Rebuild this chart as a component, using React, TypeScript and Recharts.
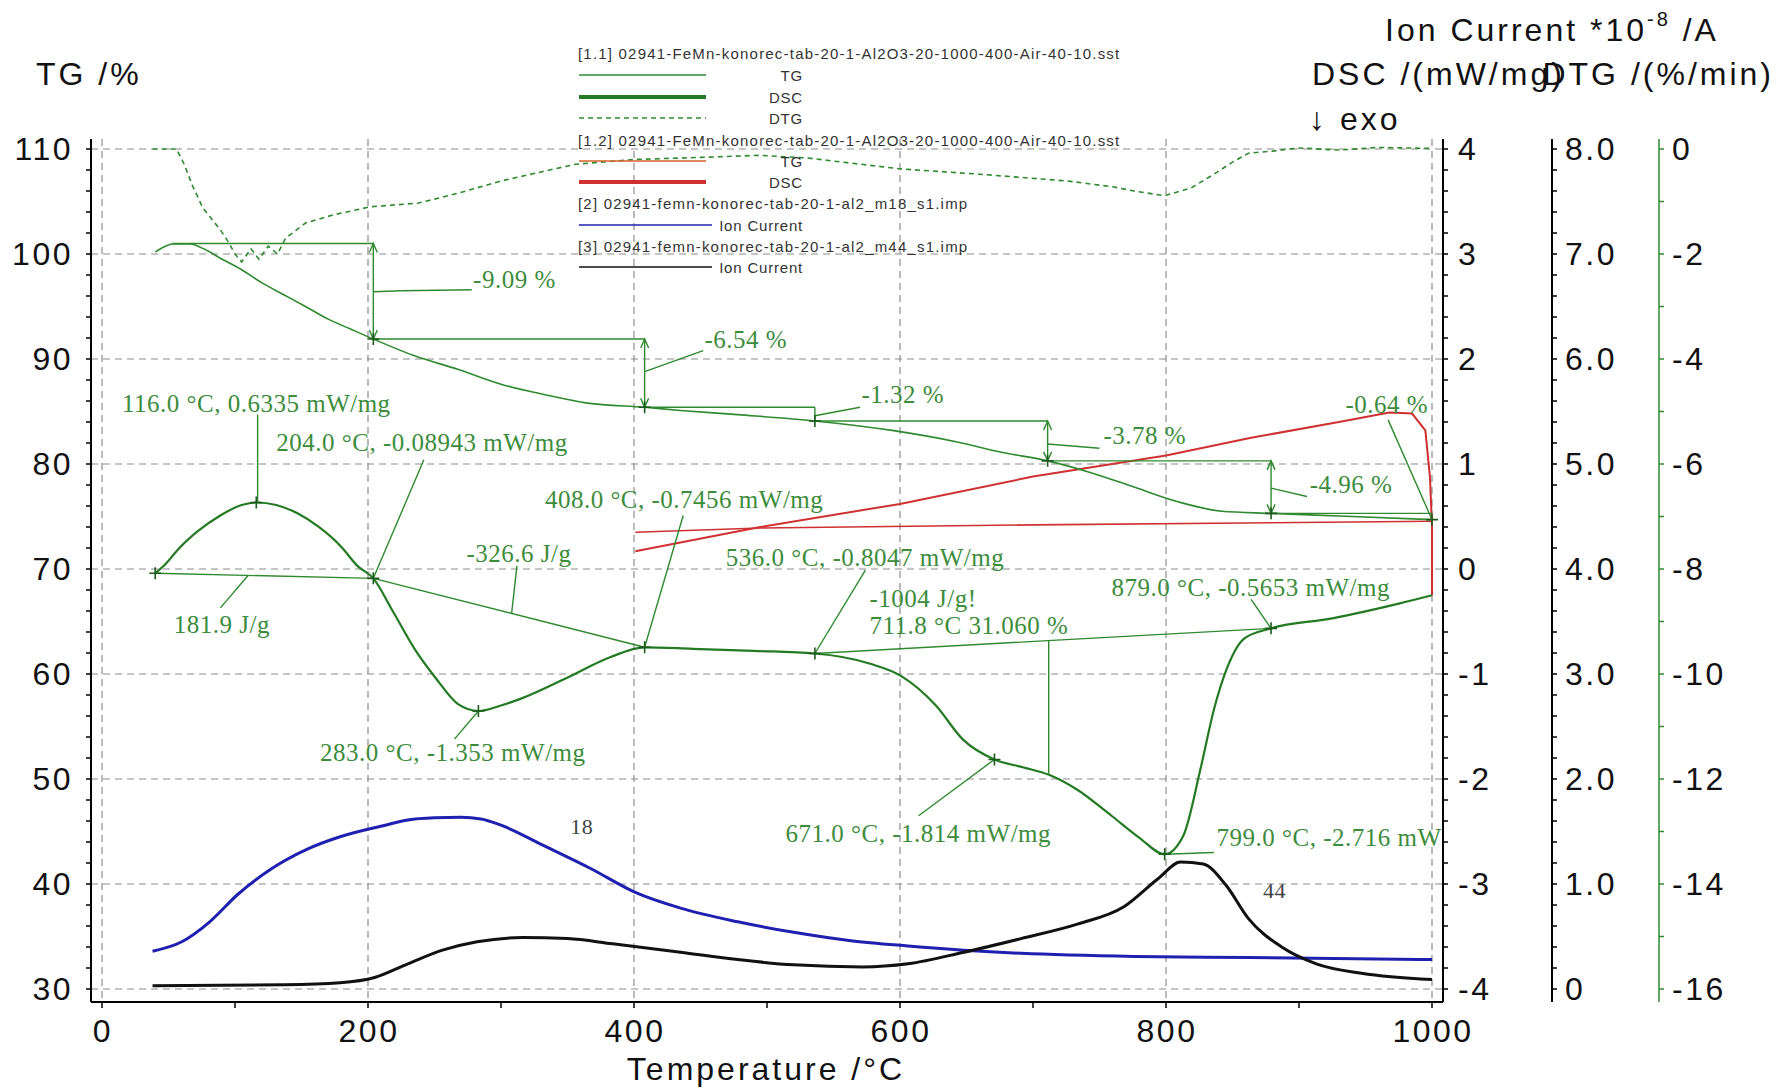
import React from 'react';
import { ComposedChart, Line, XAxis, YAxis, CartesianGrid, ReferenceLine, ReferenceDot } from 'recharts';

// ---------- series data: [temperature °C, value] ----------
const TG_11: [number, number][] = [
  [40, 100.2], [47, 100.7], [53, 100.95], [66, 100.95], [78, 100.4], [89, 99.6], [105, 98.5], [121, 97.2],
  [137, 96.1], [153, 95.0], [170, 93.8], [186, 92.9], [204, 91.9], [235, 90.3], [268, 89.0], [300, 87.6],
  [333, 86.6], [365, 85.8], [408, 85.4], [435, 85.1], [478, 84.7], [536, 84.1], [594, 83.2], [643, 82.1],
  [677, 81.1], [711, 80.3], [743, 79.2], [776, 77.8], [809, 76.4], [842, 75.5], [879, 75.3], [940, 75.0], [1000, 74.7],
];
const DSC_11: [number, number][] = [
  [40, -0.04], [48, 0.05], [56, 0.17], [72, 0.36], [89, 0.51], [105, 0.61], [116, 0.6335], [131, 0.61],
  [147, 0.53], [163, 0.40], [180, 0.21], [192, 0.03], [204, -0.089], [219, -0.41], [235, -0.76], [251, -1.04],
  [268, -1.29], [283, -1.353], [300, -1.30], [316, -1.23], [349, -1.04], [382, -0.84], [408, -0.7456], [444, -0.76],
  [490, -0.78], [536, -0.8047], [577, -0.90], [601, -1.02], [627, -1.30], [647, -1.62], [671, -1.814], [693, -1.89],
  [712, -1.96], [733, -2.10], [759, -2.35], [780, -2.56], [799, -2.716], [813, -2.54], [826, -1.90], [836, -1.34],
  [846, -0.94], [859, -0.66], [879, -0.5653], [925, -0.47], [975, -0.33], [1000, -0.25],
];
const DTG_11: [number, number][] = [
  [38, 0], [56, 0], [62, -0.3], [68, -0.7], [76, -1.13], [89, -1.54], [95, -1.77], [100, -2.0], [105, -2.15],
  [112, -1.9], [118, -2.1], [125, -1.85], [132, -2.0], [138, -1.7], [153, -1.41], [173, -1.26], [202, -1.1],
  [238, -1.03], [268, -0.84], [300, -0.61], [333, -0.42], [356, -0.29], [400, -0.2], [450, -0.16], [495, -0.12],
  [530, -0.17], [560, -0.26], [601, -0.38], [660, -0.48], [726, -0.61], [760, -0.72], [776, -0.8], [799, -0.89],
  [819, -0.74], [836, -0.48], [850, -0.25], [862, -0.08], [880, -0.04], [900, 0.02], [930, -0.02], [960, 0.03], [1000, 0.01],
];
const TG_12: [number, number][] = [[401, 73.5], [495, 73.9], [700, 74.2], [1000, 74.55]];
const DSC_12: [number, number][] = [
  [1000, -0.25], [1000, 0.4], [998.5, 0.87], [995, 1.32], [985, 1.48], [968, 1.49], [930, 1.40], [864, 1.25],
  [800, 1.08], [700, 0.88], [600, 0.62], [495, 0.40], [401, 0.17],
];
const ION_18: [number, number][] = [
  [38, 0.36], [60, 0.45], [81, 0.64], [102, 0.9], [128, 1.15], [154, 1.33], [179, 1.45], [213, 1.56], [230, 1.61],
  [250, 1.63], [270, 1.635], [285, 1.62], [300, 1.56], [333, 1.36], [367, 1.15], [401, 0.92], [435, 0.77],
  [478, 0.64], [520, 0.54], [563, 0.46], [606, 0.41], [648, 0.37], [691, 0.34], [776, 0.31], [862, 0.30], [1000, 0.28],
];
const ION_44: [number, number][] = [
  [38, 0.03], [137, 0.04], [179, 0.06], [205, 0.11], [230, 0.24], [256, 0.37], [282, 0.45], [316, 0.49], [350, 0.48],
  [384, 0.43], [435, 0.35], [478, 0.28], [520, 0.23], [572, 0.21], [606, 0.24], [648, 0.35], [691, 0.48], [734, 0.62],
  [768, 0.78], [794, 1.05], [811, 1.21], [828, 1.19], [845, 0.99], [862, 0.67], [887, 0.40], [913, 0.24], [947, 0.15], [1000, 0.09],
];

// ---------- ticks ----------
const X_MAJOR = [0, 200, 400, 600, 800, 1000];
const X_LABELS = ['0', '200', '400', '600', '800', '1000'];
const TG_MAJOR = [30, 40, 50, 60, 70, 80, 90, 100, 110];
const TG_LABELS = ['30', '40', '50', '60', '70', '80', '90', '100', '110'];
const DSC_MAJOR = [-4, -3, -2, -1, 0, 1, 2, 3, 4];
const DSC_LABELS = ['-4', '-3', '-2', '-1', '0', '1', '2', '3', '4'];
const ION_MAJOR = [0, 1, 2, 3, 4, 5, 6, 7, 8];
const ION_LABELS = ['0', '1.0', '2.0', '3.0', '4.0', '5.0', '6.0', '7.0', '8.0'];
const DTG_MAJOR = [-16, -14, -12, -10, -8, -6, -4, -2, 0];
const DTG_LABELS = ['-16', '-14', '-12', '-10', '-8', '-6', '-4', '-2', '0'];

const steps = (a: number, b: number, s: number) => {
  const out: number[] = [];
  for (let i = 0; a + i * s <= b + 1e-9; i++) out.push(Math.round((a + i * s) * 1000) / 1000);
  return out;
};
const X_TICKS = steps(0, 1000, 100);
const TG_TICKS = steps(30, 110, 2);
const DSC_TICKS = steps(-4, 4, 0.2);
const ION_TICKS = steps(0, 8, 0.2);
const DTG_TICKS = steps(-16, 0, 1);

// ---------- annotations (data coordinates) ----------
const TG_HLINES: number[][] = [[53, 101.0, 204, 101.0], [204, 91.9, 408, 91.9], [408, 85.4, 536, 85.4], [536, 84.1, 711, 84.1], [711, 80.3, 879, 80.3], [879, 75.3, 1000, 75.3]];
const TG_ARROWS: number[][] = [[204, 101.0, 91.9], [408, 91.9, 85.4], [711, 84.1, 80.3], [879, 80.3, 75.3]];
const TG_TICKLINES: number[][] = [[536, 85.4, 536, 84.1]];
const TG_LEADERS: number[][] = [[204, 96.4, 225, 96.5], [225, 96.5, 278, 96.6], [408, 88.8, 452, 90.8], [536, 84.6, 570, 85.4], [711, 81.9, 750, 81.5], [879, 77.7, 906, 76.9], [967, 84.2, 1000, 74.7]];
const TG_TEXTS = [
  { t: 279, v: 97.6, text: '-9.09 %' }, { t: 453, v: 91.9, text: '-6.54 %' }, { t: 571, v: 86.6, text: '-1.32 %' },
  { t: 753, v: 82.7, text: '-3.78 %' }, { t: 908, v: 78.0, text: '-4.96 %' }, { t: 935, v: 85.7, text: '-0.64 %' },
];
const TG_CROSSES: number[][] = [[204, 91.9], [408, 85.4], [536, 84.1], [711, 80.3], [879, 75.3], [1000, 74.7]];

const DSC_SEGS: number[][] = [
  [40, -0.04, 204, -0.089], [204, -0.089, 408, -0.7456], [536, -0.8047, 879, -0.5653],
  [117, 1.47, 117, 0.6335], [242, 1.04, 204, -0.089], [89, -0.37, 110, -0.06], [312, 0.03, 308, -0.42],
  [283, -1.353, 265, -1.62], [437, 0.51, 408, -0.7456], [574, -0.01, 536, -0.8047], [711.8, -0.682, 711.8, -1.96],
  [614, -2.35, 671, -1.814], [799, -2.716, 836, -2.70], [864, -0.29, 879, -0.5653],
];
const DSC_TEXTS = [
  { t: 15, v: 1.58, text: '116.0 °C, 0.6335 mW/mg' }, { t: 131, v: 1.2, text: '204.0 °C, -0.08943 mW/mg' },
  { t: 54, v: -0.53, text: '181.9 J/g' }, { t: 274, v: 0.15, text: '-326.6 J/g' },
  { t: 164, v: -1.75, text: '283.0 °C, -1.353 mW/mg' }, { t: 333, v: 0.66, text: '408.0 °C, -0.7456 mW/mg' },
  { t: 469, v: 0.11, text: '536.0 °C, -0.8047 mW/mg' }, { t: 577, v: -0.28, text: '-1004  J/g!' },
  { t: 577, v: -0.54, text: '711.8 °C 31.060 %' }, { t: 514, v: -2.52, text: '671.0 °C, -1.814 mW/mg' },
  { t: 838, v: -2.56, text: '799.0 °C, -2.716 mW' }, { t: 759, v: -0.18, text: '879.0 °C, -0.5653 mW/mg' },
];
const DSC_CROSSES: number[][] = [[40, -0.04], [116, 0.6335], [204, -0.089], [283, -1.353], [408, -0.7456], [536, -0.8047], [671, -1.814], [799, -2.716], [879, -0.5653]];
const ION_TEXTS = [{ t: 352, v: 1.55, text: '18' }, { t: 873, v: 0.94, text: '44' }];

// ---------- styles ----------
const W = 1772;
const H = 1080;
const GREEN = '#2f8a2f';
const GREEN_D = '#237a23';
const TXT_G = '#3c8c3c';
const BLUE = '#2020b0';
const RED = '#d03030';
const SANS = '"Liberation Sans", Arial, sans-serif';
const SERIF = '"Liberation Serif", "Times New Roman", serif';
const TICK_FS = 32;

// axis ids (right axes are laid out in id order: a → b → c)
const AX_DSC = 'a_dsc';
const AX_ION = 'b_ion';
const AX_DTG = 'c_dtg';

const pts = (arr: [number, number][]) => arr.map(([t, v]) => ({ t, v }));

const findMajor = (majors: number[], v: number) => majors.findIndex((m) => Math.abs(m - v) < 1e-6);

const makeYTick = (side: 'left' | 'right', majors: number[], labels: string[], color: string, gap: number) => (props: any) => {
  const { x, y, payload } = props;
  const idx = findMajor(majors, payload.value);
  const dir = side === 'left' ? -1 : 1;
  return (
    <g>
      <line x1={x} x2={x + dir * 5} y1={y} y2={y} stroke={color} strokeWidth={1.5} />
      {idx >= 0 && (
        <text x={x + dir * gap} y={y} textAnchor={side === 'left' ? 'end' : 'start'} dominantBaseline="central"
          fontSize={TICK_FS} fontFamily={SANS} fill="#111" style={{ letterSpacing: 2.5 }}>
          {labels[idx]}
        </text>
      )}
    </g>
  );
};

const XTick = (props: any) => {
  const { x, y, payload } = props;
  const idx = findMajor(X_MAJOR, payload.value);
  return (
    <g>
      <line x1={x} x2={x} y1={y} y2={y + 6} stroke="#000" strokeWidth={1.5} />
      {idx >= 0 && (
        <text x={x + 1} y={y + 29} textAnchor="middle" dominantBaseline="central" fontSize={TICK_FS} fontFamily={SANS}
          fill="#111" style={{ letterSpacing: 2.5 }}>
          {X_LABELS[idx]}
        </text>
      )}
    </g>
  );
};

const Cross = (p: any) => (
  <path d={`M${p.cx - 6},${p.cy}H${p.cx + 6}M${p.cx},${p.cy - 6}V${p.cy + 6}`} stroke="#1d5a1d" strokeWidth={1.6} fill="none" />
);

const makeText = (text: string, fill: string, fs: number) => (p: any) => (
  <text x={p.cx} y={p.cy} dominantBaseline="central" fontFamily={SERIF} fontSize={fs} fill={fill} style={{ letterSpacing: 0.5 }}>
    {text}
  </text>
);

const Arrow = (p: any) => {
  const { x1, y1, x2, y2 } = p;
  return (
    <g stroke={GREEN} strokeWidth={1.4} fill="none">
      <line x1={x1} y1={y1} x2={x2} y2={y2} />
      <polyline points={`${x1 - 4},${y1 + 9} ${x1},${y1} ${x1 + 4},${y1 + 9}`} />
      <polyline points={`${x2 - 4},${y2 - 9} ${x2},${y2} ${x2 + 4},${y2 - 9}`} />
    </g>
  );
};

const seg = (s: number[]) => [{ x: s[0], y: s[1] }, { x: s[2], y: s[3] }];

function Overlay() {
  const legendLineX1 = 571;
  const legendLineX2 = 698;
  const labelX = 795;
  const hdr = { fontFamily: SANS, fontSize: 15, fill: '#333', style: { letterSpacing: 1.2 } } as any;
  const lab = { fontFamily: SANS, fontSize: 15, fill: '#333', textAnchor: 'end', style: { letterSpacing: 0.8 } } as any;
  const title = { fontFamily: SANS, fontSize: 32, fill: '#111', dominantBaseline: 'central', style: { letterSpacing: 3 } } as any;
  return (
    <svg width={W} height={H} style={{ position: 'absolute', left: 0, top: 0, pointerEvents: 'none' }}>
      <text x={570} y={45} dominantBaseline="central" {...hdr}>[1.1] 02941-FeMn-konorec-tab-20-1-Al2O3-20-1000-400-Air-40-10.sst</text>
      <line x1={legendLineX1} x2={legendLineX2} y1={67} y2={67} stroke={GREEN} strokeWidth={1.5} />
      <text x={labelX} y={67} dominantBaseline="central" {...lab}>TG</text>
      <line x1={legendLineX1} x2={legendLineX2} y1={89} y2={89} stroke={GREEN_D} strokeWidth={4} />
      <text x={labelX} y={89} dominantBaseline="central" {...lab}>DSC</text>
      <line x1={legendLineX1} x2={legendLineX2} y1={110} y2={110} stroke={GREEN} strokeWidth={1.5} strokeDasharray="5 4" />
      <text x={labelX} y={110} dominantBaseline="central" {...lab}>DTG</text>
      <text x={570} y={132} dominantBaseline="central" {...hdr}>[1.2] 02941-FeMn-konorec-tab-20-1-Al2O3-20-1000-400-Air-40-10.sst</text>
      <line x1={legendLineX1} x2={legendLineX2} y1={153} y2={153} stroke="#d8602a" strokeWidth={1.5} />
      <text x={labelX} y={153} dominantBaseline="central" {...lab}>TG</text>
      <line x1={legendLineX1} x2={legendLineX2} y1={174} y2={174} stroke={RED} strokeWidth={4} />
      <text x={labelX} y={174} dominantBaseline="central" {...lab}>DSC</text>
      <text x={570} y={195} dominantBaseline="central" {...hdr}>[2] 02941-femn-konorec-tab-20-1-al2_m18_s1.imp</text>
      <line x1={legendLineX1} x2={704} y1={217} y2={217} stroke={BLUE} strokeWidth={1.5} />
      <text x={labelX} y={217} dominantBaseline="central" {...lab}>Ion Current</text>
      <text x={570} y={238} dominantBaseline="central" {...hdr}>[3] 02941-femn-konorec-tab-20-1-al2_m44_s1.imp</text>
      <line x1={legendLineX1} x2={704} y1={259} y2={259} stroke="#111" strokeWidth={1.5} />
      <text x={labelX} y={259} dominantBaseline="central" {...lab}>Ion Current</text>

      <text x={28} y={66} {...title}>TG /%</text>
      <text x={1377} y={22} {...title}>
        Ion Current *10<tspan fontSize={20} dy={-11}>-8</tspan><tspan dy={11}> /A</tspan>
      </text>
      <text x={1304} y={66} {...title}>DSC /(mW/mg)</text>
      <text x={1766} y={66} textAnchor="end" {...title}>DTG /(%/min)</text>
      <text x={1301} y={111} {...title}>↓ exo</text>
      <text x={758} y={1061} textAnchor="middle" {...title}>Temperature /°C</text>
    </svg>
  );
}

export default function App() {
  const common = { xAxisId: 't', dot: false, activeDot: false, isAnimationActive: false, dataKey: 'v' };
  return (
    <div style={{ position: 'relative', width: W, height: H }}>
      <ComposedChart width={W} height={H} margin={{ top: 131, right: 0, bottom: 0, left: 0 }}>
        <CartesianGrid xAxisId="t" yAxisId="tg" horizontalValues={TG_MAJOR} verticalValues={X_MAJOR}
          stroke="#8c8c8c" strokeDasharray="7 5" strokeWidth={1.2} fill="none" />
        <XAxis xAxisId="t" dataKey="t" type="number" domain={[-8.27, 1008.27]} allowDataOverflow ticks={X_TICKS}
          interval={0} tickSize={0} tickMargin={0} tickLine={false} axisLine={{ stroke: '#000', strokeWidth: 2 }}
          tick={XTick} height={86} />
        <YAxis yAxisId="tg" orientation="left" type="number" domain={[28.762, 110.952]} allowDataOverflow ticks={TG_TICKS}
          interval={0} tickSize={0} tickMargin={0} tickLine={false} axisLine={{ stroke: '#000', strokeWidth: 2 }}
          tick={makeYTick('left', TG_MAJOR, TG_LABELS, '#000', 18)} width={83} />
        <YAxis yAxisId={AX_DSC} orientation="right" type="number" domain={[-4.1238, 4.0952]} allowDataOverflow ticks={DSC_TICKS}
          interval={0} tickSize={0} tickMargin={0} tickLine={false} axisLine={{ stroke: '#000', strokeWidth: 2 }}
          tick={makeYTick('right', DSC_MAJOR, DSC_LABELS, '#000', 15)} width={109} />
        <YAxis yAxisId={AX_ION} orientation="right" type="number" domain={[-0.1238, 8.0952]} allowDataOverflow ticks={ION_TICKS}
          interval={0} tickSize={0} tickMargin={0} tickLine={false} axisLine={{ stroke: '#000', strokeWidth: 2 }}
          tick={makeYTick('right', ION_MAJOR, ION_LABELS, '#000', 13)} width={107} />
        <YAxis yAxisId={AX_DTG} orientation="right" type="number" domain={[-16.2476, 0.1905]} allowDataOverflow ticks={DTG_TICKS}
          interval={0} tickSize={0} tickMargin={0} tickLine={false} axisLine={{ stroke: GREEN, strokeWidth: 1.5 }}
          tick={makeYTick('right', DTG_MAJOR, DTG_LABELS, GREEN, 13)} width={121} />

        <Line {...common} type="monotoneX" yAxisId={AX_ION} data={pts(ION_18)} stroke={BLUE} strokeWidth={3} />
        <Line {...common} type="monotoneX" yAxisId={AX_ION} data={pts(ION_44)} stroke="#111" strokeWidth={3} />
        <Line {...common} type="linear" yAxisId={AX_DTG} data={pts(DTG_11)} stroke={GREEN} strokeWidth={1.6} strokeDasharray="5 4" />
        <Line {...common} type="linear" yAxisId="tg" data={pts(TG_12)} stroke={RED} strokeWidth={1.6} />
        <Line {...common} type="linear" yAxisId={AX_DSC} data={pts(DSC_12)} stroke={RED} strokeWidth={2} />
        <Line {...common} type="monotoneX" yAxisId="tg" data={pts(TG_11)} stroke={GREEN} strokeWidth={1.6} />
        <Line {...common} type="monotoneX" yAxisId={AX_DSC} data={pts(DSC_11)} stroke={GREEN_D} strokeWidth={2.2} />

        {TG_HLINES.map((s, i) => (
          <ReferenceLine key={`th${i}`} xAxisId="t" yAxisId="tg" segment={seg(s)} stroke={GREEN} strokeWidth={1.4} ifOverflow="visible" />
        ))}
        {TG_TICKLINES.map((s, i) => (
          <ReferenceLine key={`tt${i}`} xAxisId="t" yAxisId="tg" segment={seg(s)} stroke={GREEN} strokeWidth={1.4} ifOverflow="visible" />
        ))}
        {TG_ARROWS.map((a, i) => (
          <ReferenceLine key={`ta${i}`} xAxisId="t" yAxisId="tg" segment={[{ x: a[0], y: a[1] }, { x: a[0], y: a[2] }]}
            stroke={GREEN} ifOverflow="visible" shape={Arrow} />
        ))}
        {TG_LEADERS.map((s, i) => (
          <ReferenceLine key={`tl${i}`} xAxisId="t" yAxisId="tg" segment={seg(s)} stroke={GREEN} strokeWidth={1.4} ifOverflow="visible" />
        ))}
        {DSC_SEGS.map((s, i) => (
          <ReferenceLine key={`ds${i}`} xAxisId="t" yAxisId={AX_DSC} segment={seg(s)} stroke={GREEN} strokeWidth={1.4} ifOverflow="visible" />
        ))}
        {TG_CROSSES.map((c, i) => (
          <ReferenceDot key={`tc${i}`} xAxisId="t" yAxisId="tg" x={c[0]} y={c[1]} r={1} shape={Cross} ifOverflow="visible" />
        ))}
        {DSC_CROSSES.map((c, i) => (
          <ReferenceDot key={`dc${i}`} xAxisId="t" yAxisId={AX_DSC} x={c[0]} y={c[1]} r={1} shape={Cross} ifOverflow="visible" />
        ))}
        {TG_TEXTS.map((l, i) => (
          <ReferenceDot key={`tx${i}`} xAxisId="t" yAxisId="tg" x={l.t} y={l.v} r={1} shape={makeText(l.text, TXT_G, 25)} ifOverflow="visible" />
        ))}
        {DSC_TEXTS.map((l, i) => (
          <ReferenceDot key={`dx${i}`} xAxisId="t" yAxisId={AX_DSC} x={l.t} y={l.v} r={1} shape={makeText(l.text, TXT_G, 25)} ifOverflow="visible" />
        ))}
        {ION_TEXTS.map((l, i) => (
          <ReferenceDot key={`ix${i}`} xAxisId="t" yAxisId={AX_ION} x={l.t} y={l.v} r={1} shape={makeText(l.text, '#444', 22)} ifOverflow="visible" />
        ))}
      </ComposedChart>
      <Overlay />
    </div>
  );
}
